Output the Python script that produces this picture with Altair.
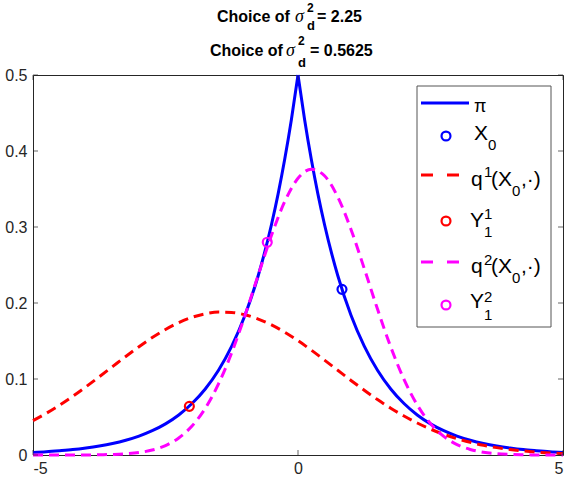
import altair as alt
import pandas as pd

# ---- data -----------------------------------------------------------------
# target density pi (Laplace), sampled on both sides of the cusp at 0
pi_x = [-5, -4.75, -4.5, -4.25, -4, -3.75, -3.5, -3.25, -3, -2.75, -2.5, -2.25,
        -2, -1.75, -1.5, -1.25, -1, -0.75, -0.5, -0.375, -0.25, -0.125, 0,
        0.125, 0.25, 0.375, 0.5, 0.75, 1, 1.25, 1.5, 1.75, 2, 2.25, 2.5, 2.75,
        3, 3.25, 3.5, 3.75, 4, 4.25, 4.5, 4.75, 5]
pi_y = [0.0034, 0.0043, 0.0056, 0.0071, 0.0092, 0.0118, 0.0151, 0.0194, 0.0249,
        0.0320, 0.0410, 0.0527, 0.0677, 0.0869, 0.1116, 0.1433, 0.1839, 0.2362,
        0.3033, 0.3436, 0.3894, 0.4412, 0.5000, 0.4412, 0.3894, 0.3436, 0.3033,
        0.2362, 0.1839, 0.1433, 0.1116, 0.0869, 0.0677, 0.0527, 0.0410, 0.0320,
        0.0249, 0.0194, 0.0151, 0.0118, 0.0092, 0.0071, 0.0056, 0.0043, 0.0034]

# proposal densities, sampled every 0.25 on [-5, 5]
q_x = [-5, -4.75, -4.5, -4.25, -4, -3.75, -3.5, -3.25, -3, -2.75, -2.5, -2.25,
       -2, -1.75, -1.5, -1.25, -1, -0.75, -0.5, -0.25, 0, 0.25, 0.5, 0.75, 1,
       1.25, 1.5, 1.75, 2, 2.25, 2.5, 2.75, 3, 3.25, 3.5, 3.75, 4, 4.25, 4.5,
       4.75, 5]
q1_y = [0.0453, 0.0549, 0.0656, 0.0773, 0.0898, 0.1029, 0.1163, 0.1297, 0.1425,
        0.1545, 0.1652, 0.1742, 0.1812, 0.1858, 0.1880, 0.1875, 0.1845, 0.1789,
        0.1712, 0.1616, 0.1504, 0.1380, 0.1249, 0.1115, 0.0981, 0.0852, 0.0729,
        0.0616, 0.0513, 0.0421, 0.0341, 0.0272, 0.0215, 0.0167, 0.0128, 0.0097,
        0.0072, 0.0053, 0.0038, 0.0027, 0.0019]
q2_y = [0.0, 0.0, 0.0, 0.0, 0.0001, 0.0003, 0.0007, 0.0015, 0.0033, 0.0065,
        0.0124, 0.0224, 0.0381, 0.0614, 0.0935, 0.1347, 0.1837, 0.2369, 0.2890,
        0.3335, 0.3641, 0.3760, 0.3674, 0.3395, 0.2968, 0.2454, 0.1920, 0.1421,
        0.0995, 0.0659, 0.0413, 0.0245, 0.0137, 0.0073, 0.0036, 0.0017, 0.0008,
        0.0003, 0.0001, 0.0, 0.0]

# current state and the two proposed moves
x0 = (0.83, 0.218)
y1_1 = (-2.05, 0.064)
y1_2 = (-0.58, 0.280)

x_ticks = [-5, 0, 5]
y_ticks = [0, 0.1, 0.2, 0.3, 0.4, 0.5]

# ---- styling --------------------------------------------------------------
BLUE, RED, MAGENTA = "#0000ff", "#ff0000", "#ff00ff"
AXC = "#262626"
SANS = "Liberation Sans"
W, H = 530, 380

xs = alt.Scale(domain=[-5, 5], nice=False, zero=False)
ys = alt.Scale(domain=[0, 0.5], nice=False, zero=False)
xax = alt.Axis(values=x_ticks, labelExpr="'' + datum.value", ticks=False, tickSize=0,
               domain=False, grid=False, labelFont=SANS, labelFontSize=16,
               labelColor=AXC, labelPadding=5, title=None)
yax = alt.Axis(values=y_ticks, format="~g", ticks=False, tickSize=0, domain=False,
               grid=False, labelFont=SANS, labelFontSize=16, labelColor=AXC,
               labelPadding=6, title=None)

X = lambda f: alt.X(f, type="quantitative", scale=xs, axis=xax)
Y = lambda f: alt.Y(f, type="quantitative", scale=ys, axis=yax)

pi_df = pd.DataFrame({"x": pi_x, "y": pi_y})
pi_df["side"] = ["L" if v < 0 else "R" for v in pi_x]
pi_df = pd.concat([pi_df, pd.DataFrame({"x": [0], "y": [pi_y[pi_x.index(0)]], "side": ["L"]})])
q1_df = pd.DataFrame({"x": q_x, "y": q1_y})
q2_df = pd.DataFrame({"x": q_x, "y": q2_y})

pi_line = alt.Chart(pi_df).mark_line(
    color=BLUE, strokeWidth=3, interpolate="monotone"
).encode(x=X("x"), y=Y("y"), detail="side:N", order="x:Q")


def pt(p, color):
    return alt.Chart(pd.DataFrame({"x": [p[0]], "y": [p[1]]})).mark_point(
        shape="circle", filled=False, size=80, strokeWidth=2.2, color=color, opacity=1
    ).encode(x=X("x"), y=Y("y"))


def dashed(df, color):
    return alt.Chart(df).mark_line(
        color=color, strokeWidth=3, strokeDash=[10, 6], interpolate="monotone"
    ).encode(x=X("x"), y=Y("y"))


# inward tick marks on all four sides of the box
yt = pd.DataFrame({"v": y_ticks})
xt = pd.DataFrame({"v": x_ticks})
tick_l = alt.Chart(yt).mark_tick(orient="horizontal", size=5, thickness=1, color=AXC).encode(
    y=Y("v"), x=alt.value(2.5))
tick_r = alt.Chart(yt).mark_tick(orient="horizontal", size=5, thickness=1, color=AXC).encode(
    y=Y("v"), x=alt.value(W - 2.5))
tick_b = alt.Chart(xt).mark_tick(orient="vertical", size=5, thickness=1, color=AXC).encode(
    x=X("v"), y=alt.value(H - 2.5))
tick_t = alt.Chart(xt).mark_tick(orient="vertical", size=5, thickness=1, color=AXC).encode(
    x=X("v"), y=alt.value(2.5))

# ---- legend (pixel layout) ------------------------------------------------
P = lambda f: alt.X(f, type="quantitative", scale=None, axis=None)
PY = lambda f: alt.Y(f, type="quantitative", scale=None, axis=None)

leg_box = alt.Chart(pd.DataFrame({"a": [384], "b": [518], "c": [11], "d": [252]})).mark_rect(
    fill="white", stroke="#555555", strokeWidth=1
).encode(x=P("a"), x2="b", y=PY("c"), y2="d")

leg_solid = alt.Chart(pd.DataFrame({"a": [388], "b": [436], "y": [28]})).mark_rule(
    color=BLUE, strokeWidth=3).encode(x=P("a"), x2="b", y=PY("y"))


def leg_dash(y, color):
    return alt.Chart(pd.DataFrame({"a": [388, 414], "b": [400, 426], "y": [y, y]})).mark_rule(
        color=color, strokeWidth=3).encode(x=P("a"), x2="b", y=PY("y"))


def leg_pt(y, color):
    return alt.Chart(pd.DataFrame({"x": [413], "y": [y]})).mark_point(
        shape="circle", filled=False, size=80, strokeWidth=2.2, color=color, opacity=1
    ).encode(x=P("x"), y=PY("y"))


def texts(rows, size, **mk):
    df = pd.DataFrame(rows, columns=["t", "x", "y"])
    return alt.Chart(df).mark_text(
        align="left", baseline="alphabetic", fontSize=size, **mk
    ).encode(x=P("x"), y=PY("y"), text="t:N")


leg_pi = texts([("π", 441, 37)], 18, font=SANS, color="black")
leg_main = texts([
    ("X", 441, 65),
    ("q", 438, 111), ("(X", 458, 111), (",·)", 488, 111),
    ("Y", 437, 152),
    ("q", 438, 198), ("(X", 458, 198), (",·)", 488, 198),
    ("Y", 437, 233),
], 21, font=SANS, color="black")
leg_small = texts([
    ("0", 455, 75),
    ("1", 451, 102), ("0", 479, 121),
    ("1", 451, 144), ("1", 451, 162),
    ("2", 451, 190), ("0", 479, 208),
    ("2", 451, 227), ("1", 451, 245),
], 15, font=SANS, color="black")

# ---- two-line title ---------------------------------------------------------
title_text = texts([
    ("Choice of", 184, -53), ("= 2.25", 284, -53),
    ("Choice of", 177, -19), ("= 0.5625", 277, -19),
], 16, font=SANS, fontWeight="bold", color="black")
title_sup = texts([("2", 274, -63), ("2", 265, -30)], 12,
                  font=SANS, fontWeight="bold", color="black")
title_sub = texts([("d", 274, -45), ("d", 265, -8)], 13,
                  font=SANS, fontWeight="bold", color="black")
title_sigma = texts([("σ", 262, -53), ("σ", 253, -19)], 18,
                    font="Liberation Serif", fontStyle="italic", color="black")

chart = alt.layer(
    pi_line, pt(x0, BLUE),
    dashed(q1_df, RED), pt(y1_1, RED),
    dashed(q2_df, MAGENTA), pt(y1_2, MAGENTA),
    tick_l, tick_r, tick_b, tick_t,
    leg_box, leg_solid, leg_pt(61, BLUE),
    leg_dash(100, RED), leg_pt(146, RED),
    leg_dash(187, MAGENTA), leg_pt(230, MAGENTA),
    leg_pi, leg_main, leg_small,
    title_text, title_sup, title_sub, title_sigma,
).properties(
    width=W, height=H,
    autosize=alt.AutoSizeParams(type="none"),
    padding={"left": 33, "top": 75, "right": 6, "bottom": 25},
    background="white",
).configure_view(stroke=AXC, strokeWidth=1)

chart.save("out.html", embed_options={"renderer": "svg", "actions": False})
